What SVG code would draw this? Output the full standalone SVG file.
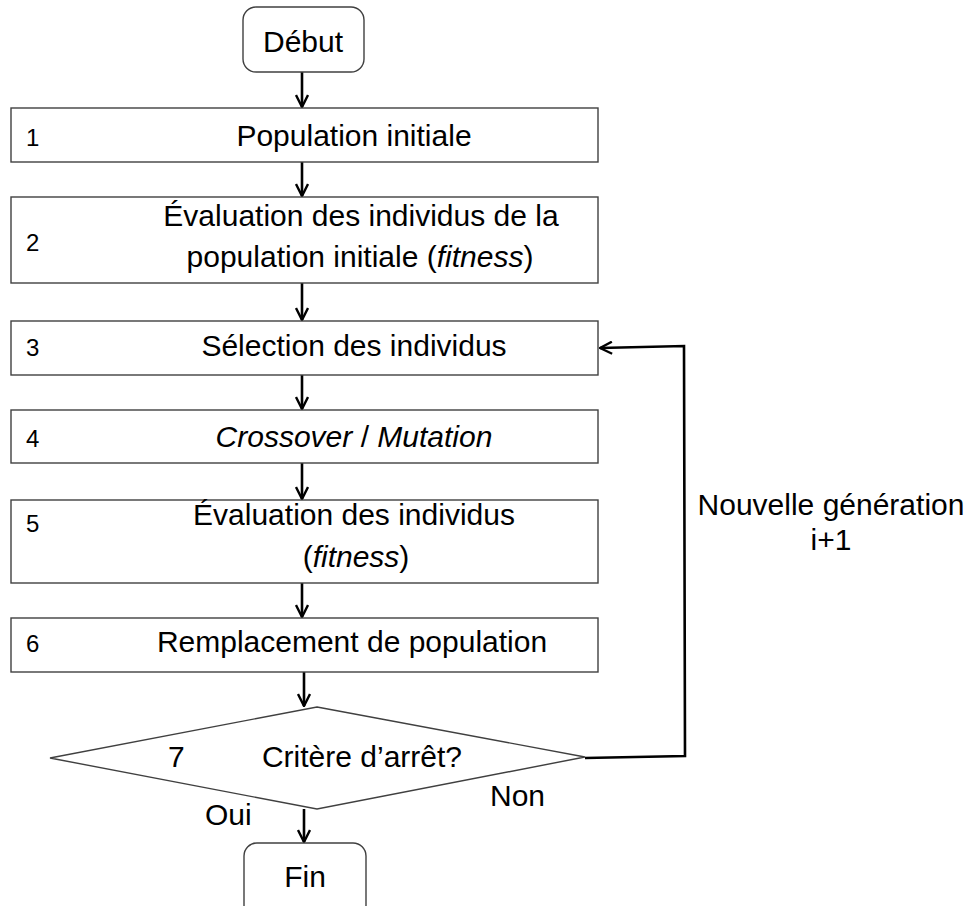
<svg xmlns="http://www.w3.org/2000/svg" width="971" height="906" viewBox="0 0 971 906">
<defs>
<style>
.box{fill:#fff;stroke:#404040;stroke-width:1.4}
.t{font-family:"Liberation Sans",Arial,sans-serif;font-size:30px;fill:#000}
.n{font-family:"Liberation Sans",Arial,sans-serif;font-size:24px;fill:#000}
.c{text-anchor:middle}
.con{fill:none;stroke:#000;stroke-width:2.6}
</style>
<marker id="ah" markerUnits="userSpaceOnUse" viewBox="0 0 14 14" refX="13" refY="7" markerWidth="14" markerHeight="14" orient="auto">
<path d="M1,1 L13,7 L1,13" fill="none" stroke="#000" stroke-width="2.4"/>
</marker>
</defs>
<rect width="971" height="906" fill="#fff"/>
<g id="connectors">
<line class="con" x1="302" y1="72" x2="302" y2="107" marker-end="url(#ah)"/>
<line class="con" x1="302" y1="162" x2="302" y2="196" marker-end="url(#ah)"/>
<line class="con" x1="302" y1="283" x2="302" y2="320" marker-end="url(#ah)"/>
<line class="con" x1="302" y1="375" x2="302" y2="409" marker-end="url(#ah)"/>
<line class="con" x1="302" y1="463" x2="302" y2="499" marker-end="url(#ah)"/>
<line class="con" x1="302" y1="583" x2="302" y2="617" marker-end="url(#ah)"/>
<line class="con" x1="304" y1="672" x2="304" y2="706" marker-end="url(#ah)"/>
<line class="con" x1="304" y1="809" x2="304" y2="842" marker-end="url(#ah)"/>
<polyline class="con" points="585,758 685,756 684,346 600,348" marker-end="url(#ah)"/>
</g>
<g id="debut">
<rect class="box" x="243" y="7" width="121" height="65" rx="13"/>
<text class="t c" x="303" y="52">Début</text>
</g>
<g id="step1">
<rect class="box" x="11" y="108" width="587" height="54"/>
<text class="n" x="26" y="146">1</text>
<text class="t c" x="354" y="146">Population initiale</text>
</g>
<g id="step2">
<rect class="box" x="11" y="197" width="587" height="86"/>
<text class="n" x="26" y="251">2</text>
<text class="t c" x="361" y="226">Évaluation des individus de la</text>
<text class="t c" x="360" y="267">population initiale (<tspan font-style="italic">fitness</tspan>)</text>
</g>
<g id="step3">
<rect class="box" x="11" y="321" width="587" height="54"/>
<text class="n" x="26" y="356">3</text>
<text class="t c" x="354" y="356">Sélection des individus</text>
</g>
<g id="step4">
<rect class="box" x="11" y="410" width="587" height="53"/>
<text class="n" x="26" y="447">4</text>
<text class="t c" x="354" y="447"><tspan font-style="italic">Crossover</tspan> / <tspan font-style="italic">Mutation</tspan></text>
</g>
<g id="step5">
<rect class="box" x="11" y="500" width="587" height="83"/>
<text class="n" x="26" y="532">5</text>
<text class="t c" x="354" y="525">Évaluation des individus</text>
<text class="t c" x="356" y="567">(<tspan font-style="italic">fitness</tspan>)</text>
</g>
<g id="step6">
<rect class="box" x="11" y="618" width="587" height="54"/>
<text class="n" x="26" y="652">6</text>
<text class="t c" x="352" y="652">Remplacement de population</text>
</g>
<g id="step7">
<polygon class="box" points="317,707 585,757 317,809 50,758"/>
<text class="t" x="168" y="767">7</text>
<text class="t c" x="362" y="767">Critère d’arrêt?</text>
<text class="t" x="490" y="806">Non</text>
<text class="t" x="205" y="825">Oui</text>
</g>
<g id="fin">
<rect class="box" x="244" y="843" width="122" height="75" rx="13"/>
<text class="t c" x="305" y="887">Fin</text>
</g>
<g id="label-loop">
<text class="t c" x="831" y="515">Nouvelle génération</text>
<text class="t c" x="831" y="550">i+1</text>
</g>
</svg>
